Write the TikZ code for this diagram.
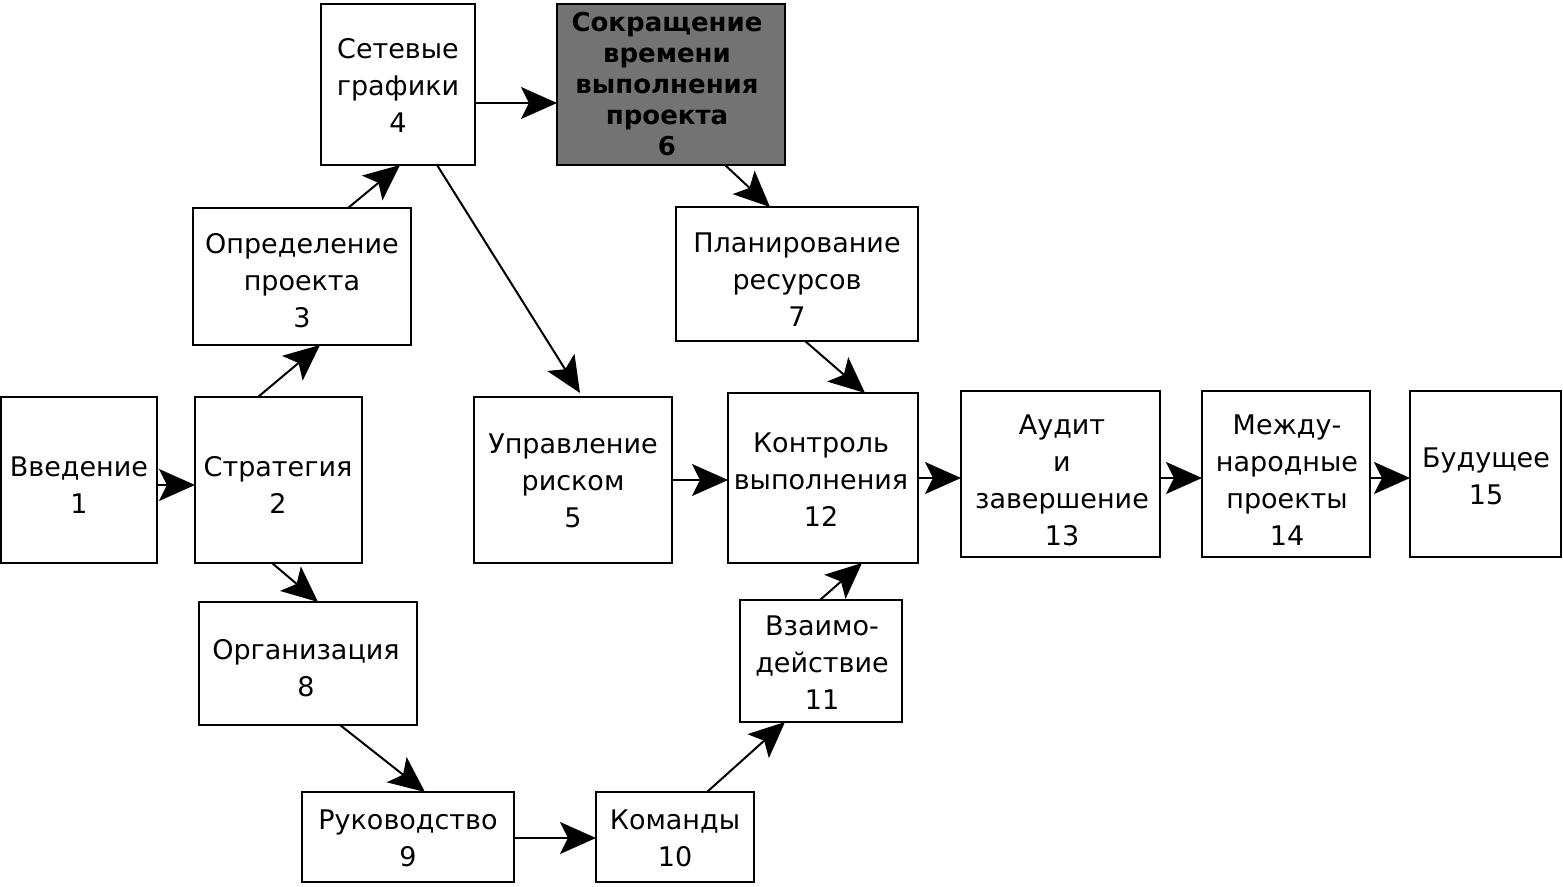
\documentclass[tikz,border=0pt]{standalone}
\usepackage{fontspec}
\setmainfont{DejaVu Sans}
\usetikzlibrary{arrows.meta}
\begin{document}
\begin{tikzpicture}[x=0.5pt,y=-0.5pt,
  box/.style={draw=black,line width=1.2pt,fill=white,align=center,inner sep=0pt},
  conn/.style={line width=1pt,-{Stealth[length=18pt,width=16pt,inset=4pt]}}]
\useasboundingbox (0,0) rectangle (1563,887);
\newcommand{\bx}[6]{\node[box,minimum width=#3*0.5pt-#1*0.5pt,minimum height=#4*0.5pt-#2*0.5pt,#6] (#5) at ({(#1+#3)/2},{(#2+#4)/2}) {};}
\bx{1}{397}{157}{563}{n1}{}
\bx{195}{397}{362}{563}{n2}{}
\bx{193}{208}{411}{345}{n3}{}
\bx{321}{4}{475}{165}{n4}{}
\bx{474}{397}{672}{563}{n5}{}
\bx{557}{4}{785}{165}{n6}{fill=black!55}
\bx{676}{207}{918}{341}{n7}{}
\bx{199}{602}{417}{725}{n8}{}
\bx{302}{792}{514}{882}{n9}{}
\bx{596}{792}{754}{882}{n10}{}
\bx{740}{600}{902}{722}{n11}{}
\bx{728}{393}{918}{563}{n12}{}
\bx{961}{391}{1160}{557}{n13}{}
\bx{1202}{391}{1370}{557}{n14}{}
\bx{1410}{391}{1561}{557}{n15}{}
\tikzset{lbl/.style={align=center,font=\fontsize{13.5}{18.5}\selectfont}}
\node[lbl] at (79,485) {Введение\\1};
\node[lbl] at (278,485) {Стратегия\\2};
\node[lbl] at (302,281) {Определение\\проекта\\3};
\node[lbl] at (398,85) {Сетевые\\графики\\4};
\node[lbl] at (573,481) {Управление\\риском\\5};
\node[lbl,font=\fontsize{13}{15.5}\selectfont\bfseries] at (667,84) {Сокращение\\времени\\выполнения\\проекта\\6};
\node[lbl] at (797,280) {Планирование\\ресурсов\\7};
\node[lbl] at (306,668) {Организация\\8};
\node[lbl] at (408,838) {Руководство\\9};
\node[lbl] at (675,838) {Команды\\10};
\node[lbl] at (822,663) {Взаимо-\\действие\\11};
\node[lbl] at (821,480) {Контроль\\выполнения\\12};
\node[lbl] at (1062,480) {Аудит\\и\\завершение\\13};
\node[lbl] at (1287,480) {Между-\\народные\\проекты\\14};
\node[lbl] at (1486,476) {Будущее\\15};
\coordinate (a1) at (157,485); \coordinate (b1) at (195,485);
\draw[conn] (a1) -- (b1);
\coordinate (a2) at (258,397); \coordinate (b2) at (320,345);
\draw[conn] (a2) -- (b2);
\coordinate (a3) at (348,208); \coordinate (b3) at (400,165);
\draw[conn] (a3) -- (b3);
\coordinate (a4) at (475,103); \coordinate (b4) at (557,103);
\draw[conn] (a4) -- (b4);
\coordinate (a5) at (437,165); \coordinate (b5) at (580,393);
\draw[conn] (a5) -- (b5);
\coordinate (a6) at (725,165); \coordinate (b6) at (770,207);
\draw[conn] (a6) -- (b6);
\coordinate (a7) at (805,341); \coordinate (b7) at (865,393);
\draw[conn] (a7) -- (b7);
\coordinate (a8) at (272,563); \coordinate (b8) at (318,602);
\draw[conn] (a8) -- (b8);
\coordinate (a9) at (340,725); \coordinate (b9) at (425,792);
\draw[conn] (a9) -- (b9);
\coordinate (a10) at (514,838); \coordinate (b10) at (596,838);
\draw[conn] (a10) -- (b10);
\coordinate (a11) at (707,792); \coordinate (b11) at (785,722);
\draw[conn] (a11) -- (b11);
\coordinate (a12) at (820,600); \coordinate (b12) at (862,563);
\draw[conn] (a12) -- (b12);
\coordinate (a13) at (672,480); \coordinate (b13) at (728,480);
\draw[conn] (a13) -- (b13);
\coordinate (a14) at (918,478); \coordinate (b14) at (961,478);
\draw[conn] (a14) -- (b14);
\coordinate (a15) at (1160,478); \coordinate (b15) at (1202,478);
\draw[conn] (a15) -- (b15);
\coordinate (a16) at (1370,478); \coordinate (b16) at (1410,478);
\draw[conn] (a16) -- (b16);
\end{tikzpicture}
\end{document}
